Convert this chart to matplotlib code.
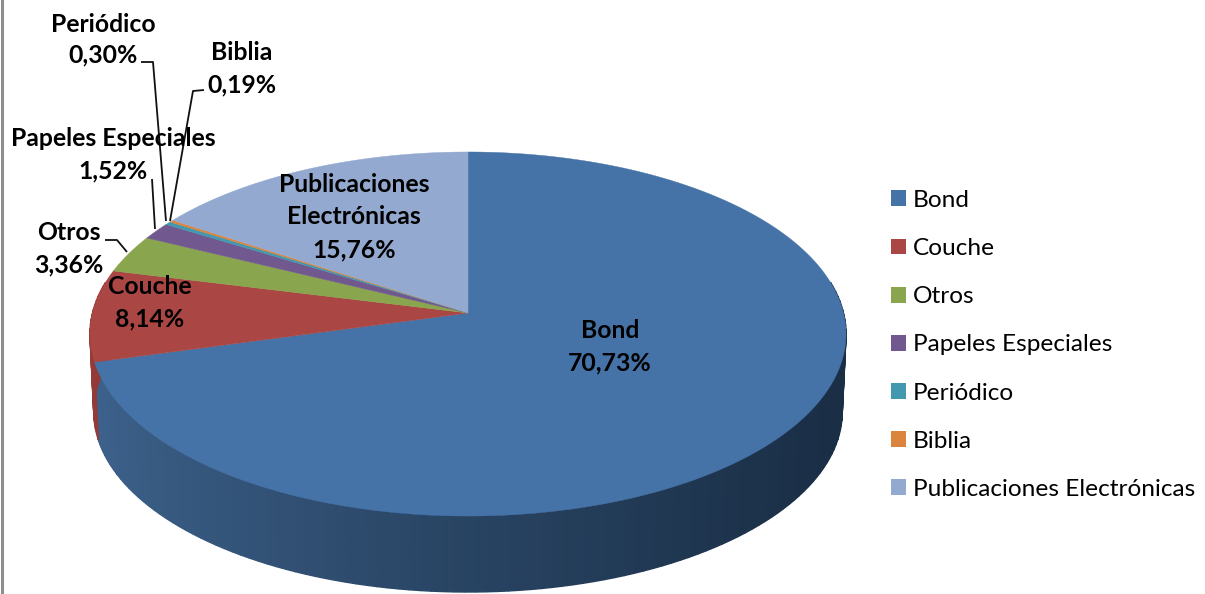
import numpy as np
import matplotlib
matplotlib.use("Agg")
import matplotlib.pyplot as plt
from matplotlib.patches import Patch

categories = ["Bond", "Couche", "Otros", "Papeles Especiales", "Periódico", "Biblia", "Publicaciones Electrónicas"]
values = [70.73, 8.14, 3.36, 1.52, 0.30, 0.19, 15.76]
colors = ["#4572A7", "#AA4643", "#89A54E", "#71588F", "#4198AF", "#DB843D", "#93A9CF"]
wall_left = {"#4572A7": (0.24, 0.385, 0.55), "#AA4643": (0.58, 0.23, 0.22)}
wall_right = (0.10, 0.18, 0.27)

FONT = "Lato"
FS_LABEL = 17.8
FS_LEGEND = 17.6
W, H = 1205, 594
fig = plt.figure(figsize=(W / 100, H / 100), dpi=100)
ax = fig.add_axes([0, 0, 1, 1])
ax.set_xlim(0, W)
ax.set_ylim(H, 0)
ax.axis("off")

# projective pie geometry
CX, CY, A, B, K, DEPTH, SHRINK = 468, 313, 375.5, 179.6, 0.1154, 78, 0.99


def project(theta, r=1.0, base=False):
    u, v = r * np.sin(theta), -r * np.cos(theta)
    w = 1 - K * v
    s = SHRINK if base else 1.0
    return CX + s * A * u / w, CY + s * B * v / w + (DEPTH if base else 0)


fr = np.array(values) / sum(values) * 2 * np.pi
ends = np.cumsum(fr)
starts = ends - fr

# side wall (front half only)
for a0, a1, col in zip(starts, ends, colors):
    lo, hi = max(a0, np.radians(80)), min(a1, np.radians(280))
    if hi <= lo:
        continue
    edges = np.arange(lo, hi, np.radians(1.5))
    edges = np.append(edges, hi)
    left = np.array(wall_left.get(col, (0.3, 0.3, 0.3)))
    for t0, t1 in zip(edges[:-1], edges[1:]):
        tt = np.linspace(t0, t1, 4)
        xt, yt = project(tt)
        xb, yb = project(tt[::-1], base=True)
        f = np.clip((xt.mean() - 90) / 756, 0, 1) ** 0.78
        c = tuple(left * (1 - f) + np.array(wall_right) * f)
        ax.fill(np.r_[xt, xb], np.r_[yt, yb], color=c, lw=1.0, zorder=2)

# top face
for a0, a1, col in zip(starts, ends, colors):
    th = np.linspace(a0, a1, max(3, int((a1 - a0) * 120)))
    xs, ys = project(th)
    ax.fill(np.r_[CX, xs], np.r_[CY, ys], color=col, lw=0.3, zorder=3)


def pct(v):
    return f"{v:.2f}%".replace(".", ",")


# data labels: category -> centre positions (px) of its text lines
label_pos = {
    "Bond": (610, [331, 363]),
    "Couche": (150, [286, 319]),
    "Otros": (69, [233, 265]),
    "Papeles Especiales": (113, [138, 171]),
    "Periódico": (103, [24, 55]),
    "Biblia": (242, [52, 85]),
}
style = dict(ha="center", va="center", fontsize=FS_LABEL, fontweight="bold", family=FONT, color="black", zorder=6)
for cat, v in zip(categories, values):
    if cat in label_pos:
        x, ys = label_pos[cat]
        ax.text(x, ys[0], cat, **style)
        ax.text(x, ys[1], pct(v), **style)
ax.text(354, 184, "Publicaciones", **style)
ax.text(354, 217, "Electrónicas", **style)
ax.text(354, 250, pct(values[-1]), **style)

# leader lines
leaders = [
    ([141, 153, 166], [62, 62, 221]),
    ([204, 193, 170], [90, 91, 221]),
    ([152, 155], [179, 229]),
    ([105, 117, 127], [240, 240, 252]),
]
for xs, ys in leaders:
    ax.plot(xs, ys, color="#111111", lw=1.3, zorder=5, solid_capstyle="butt")

# left border of the chart area
ax.plot([1.5, 1.5], [0, H], color="#8E8E8E", lw=2.2, zorder=7)

handles = [Patch(facecolor=c, edgecolor="none") for c in colors]
leg = ax.legend(handles, categories, loc="upper left", bbox_to_anchor=(891, 190),
                bbox_transform=ax.transData, frameon=False, ncol=1,
                prop={"family": FONT, "size": FS_LEGEND}, handlelength=0.62, handleheight=0.62,
                handletextpad=0.29, labelspacing=1.11, borderpad=0, borderaxespad=0)

fig.savefig("out.png", dpi=100)
